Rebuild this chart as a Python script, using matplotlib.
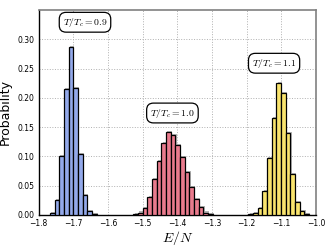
import numpy as np
import matplotlib
matplotlib.use('Agg')
import matplotlib.pyplot as plt
import matplotlib.patheffects as pe

plt.rcParams['mathtext.fontset'] = 'cm'

bin_width = 0.01347

# T/Tc = 0.9
blue_start = -1.767
blue_heights = [0.003, 0.026, 0.100, 0.215, 0.286, 0.217, 0.104, 0.034, 0.006, 0.001]

# T/Tc = 1.0
red_start = -1.5265
red_heights = [0.001, 0.004, 0.012, 0.031, 0.061, 0.092, 0.122, 0.142, 0.137,
               0.119, 0.099, 0.073, 0.047, 0.027, 0.013, 0.004, 0.001]

# T/Tc = 1.1
yellow_start = -1.195
yellow_heights = [0.002, 0.003, 0.012, 0.041, 0.097, 0.165, 0.225, 0.208, 0.140,
                  0.069, 0.022, 0.006, 0.001]

labels = [r'$T/T_c=0.9$', r'$T/T_c=1.0$', r'$T/T_c=1.1$']
colors = ['#93a9ea', '#e97b8d', '#f9e46e']

fig = plt.figure(figsize=(3.32, 2.49), dpi=100)
ax = fig.add_axes([0.116, 0.137, 0.836, 0.823])

shadow = [pe.SimplePatchShadow(offset=(0.8, 0.8), shadow_rgbFace='gray', alpha=0.6), pe.Normal()]

for start, heights, c in [(blue_start, blue_heights, colors[0]),
                          (red_start, red_heights, colors[1]),
                          (yellow_start, yellow_heights, colors[2])]:
    lefts = start + bin_width * np.arange(len(heights))
    bars = ax.bar(lefts, heights, width=bin_width, align='edge', color=c,
                  edgecolor='black', linewidth=0.9, zorder=3)
    for b in bars:
        b.set_path_effects(shadow)

ax.set_xlim(-1.8, -1.0)
ax.set_ylim(0, 0.35)
ax.set_yticks(np.arange(0, 0.31, 0.05))
ax.set_xticks(np.arange(-1.8, -0.99, 0.1))
ax.tick_params(labelsize=5.5, length=0)
ax.tick_params(axis='x', pad=3)
ax.tick_params(axis='y', pad=3)
ax.grid(True, color='#b0b0b0', linestyle=':', linewidth=0.7, zorder=0)

for s in ['top', 'right']:
    ax.spines[s].set_color('#808080')
    ax.spines[s].set_linewidth(1.2)
for s in ['left', 'bottom']:
    ax.spines[s].set_color('black')
    ax.spines[s].set_linewidth(1.0)

ax.set_ylabel('Probability', fontsize=9, labelpad=4)
ax.set_xlabel(r'$E/N$', fontsize=10, labelpad=1)

box = dict(boxstyle='round,pad=0.35,rounding_size=0.7', fc='white', ec='black', lw=0.9)
ax.text(-1.666, 0.329, labels[0], fontsize=7, ha='center', va='center', bbox=box, zorder=5)
ax.text(-1.414, 0.174, labels[1], fontsize=7, ha='center', va='center', bbox=box, zorder=5)
ax.text(-1.121, 0.259, labels[2], fontsize=7, ha='center', va='center', bbox=box, zorder=5)

fig.savefig('out.png', dpi=100)
